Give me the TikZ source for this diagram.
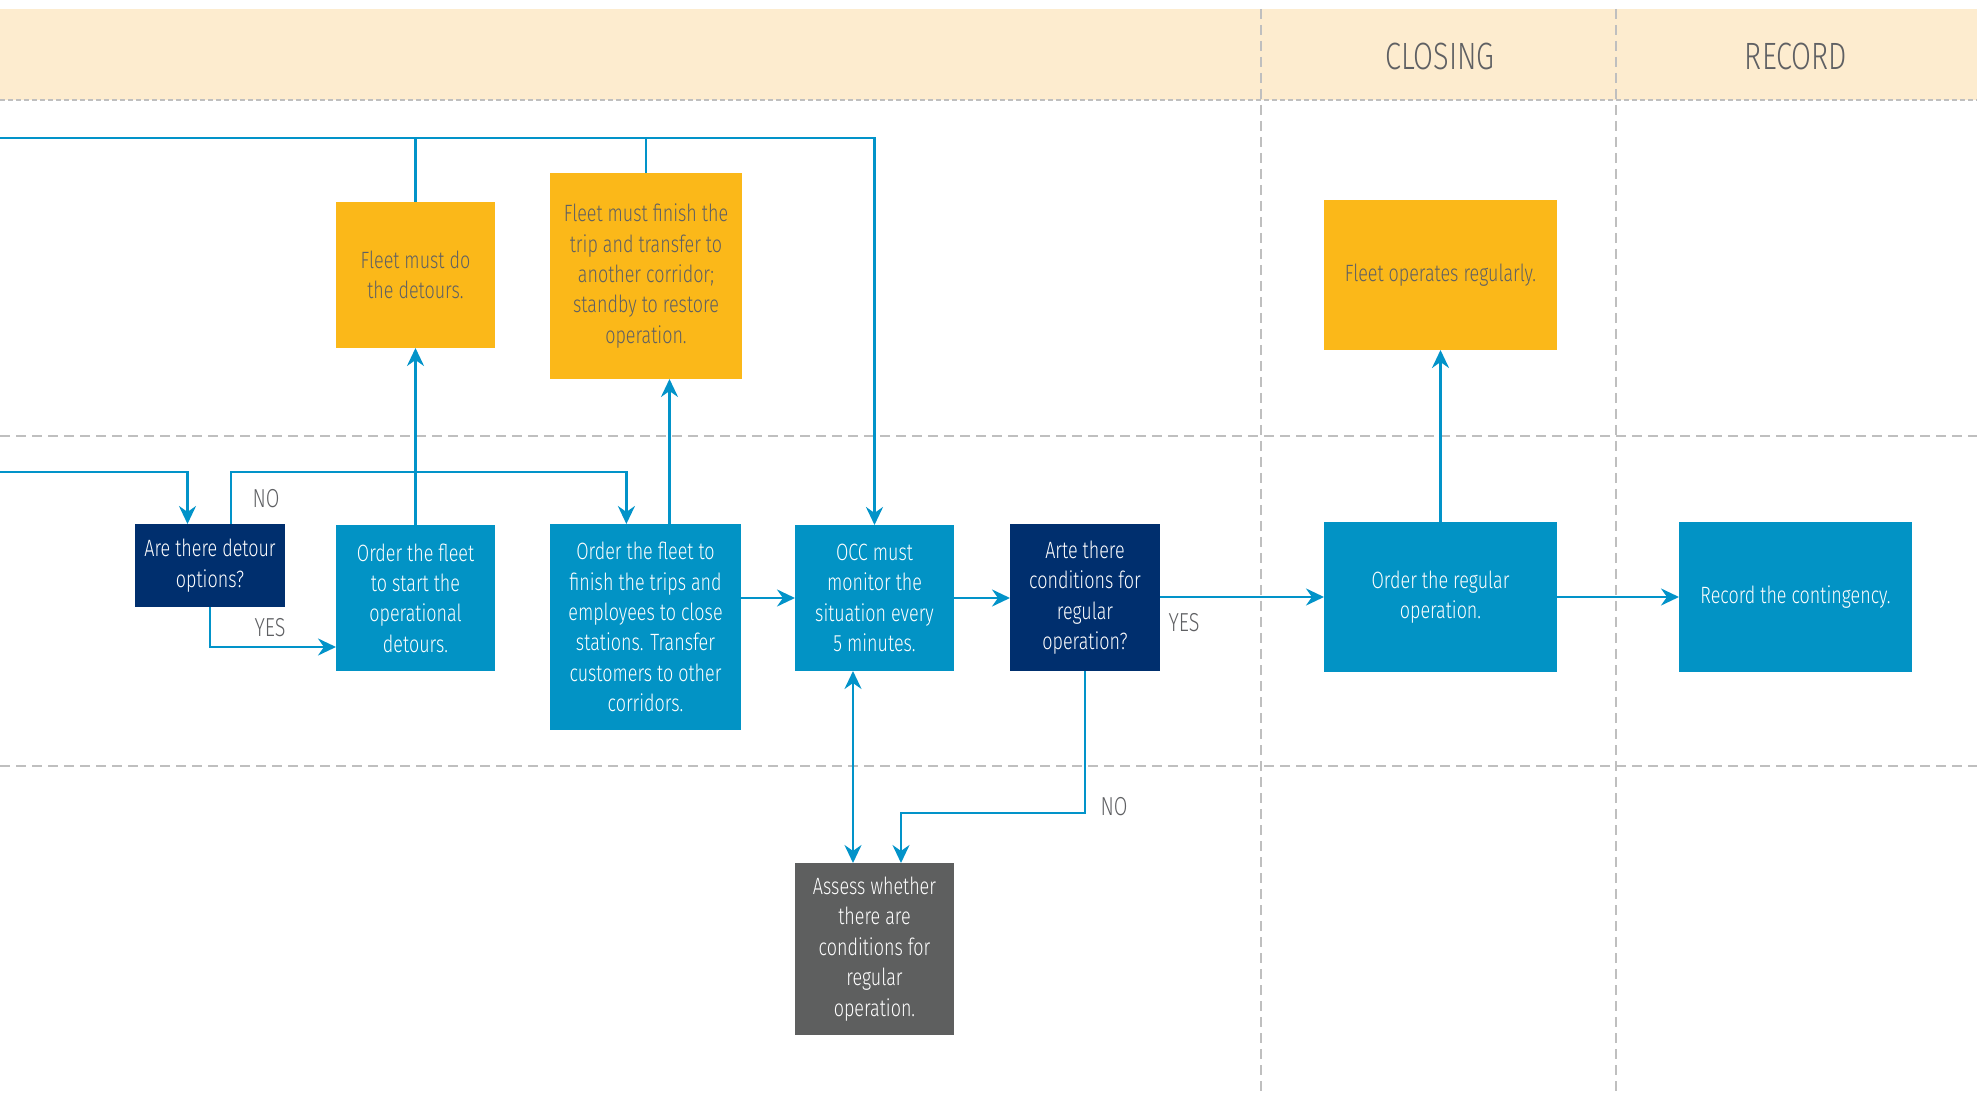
\documentclass[tikz,border=0pt]{standalone}
\usepackage{fontspec}
\setmainfont{Fira Sans Light}[FakeStretch=0.76]
\usetikzlibrary{arrows.meta,calc}
\definecolor{cband}{HTML}{FDECCF}
\definecolor{cblue}{HTML}{0293C5}
\definecolor{cnavy}{HTML}{002F6E}
\definecolor{cyellow}{HTML}{FBB819}
\definecolor{cgray}{HTML}{5E5F5F}
\definecolor{cline}{HTML}{0293C9}
\definecolor{ctext}{HTML}{5F6063}
\definecolor{cdash}{HTML}{BFBFBF}
\begin{document}
\begin{tikzpicture}[x=0.5pt,y=-0.5pt,
  box/.style={inner sep=0pt,outer sep=0pt,align=center,text=white,
    font=\fontsize{11.8}{15.2}\selectfont},
  bluebox/.style={box,fill=cblue},
  navybox/.style={box,fill=cnavy},
  yellowbox/.style={box,fill=cyellow,text=ctext},
  graybox/.style={box,fill=cgray},
  flow/.style={draw=cline,line width=1.4pt},
  flowarrow/.style={flow,-{Stealth[length=9pt,width=8.5pt,inset=3pt]}},
  twoway/.style={flow,{Stealth[length=9pt,width=8.5pt,inset=3pt]}-{Stealth[length=9pt,width=8.5pt,inset=3pt]}},
  lbl/.style={text=ctext,inner sep=0pt,font=\fontsize{13}{15}\selectfont},
  head/.style={text=ctext,inner sep=0pt,font=\fontsize{19}{22}\selectfont},
  lane/.style={draw=cdash,line width=1pt,dash pattern=on 5pt off 3pt}
]
\useasboundingbox (0,0) rectangle (1977,1096);

% header band and lane grid
\fill[cband] (0,9) rectangle (1977,100);
\draw[cdash,line width=1.4pt,dash pattern=on 2.5pt off 1.5pt] (0,100) -- (1977,100);
\draw[lane] (0,436) -- (1977,436);
\draw[lane] (0,766) -- (1977,766);
\draw[lane] (1261,9) -- (1261,1096);
\draw[lane] (1616,9) -- (1616,1096);
\node[head] (hclose) at (1440,56) {CLOSING};
\node[head] (hrec) at (1796,56) {RECORD};

% process boxes
\node[navybox,minimum width=75pt,minimum height=41.5pt] (q1) at (210,565.5)
  {Are there detour\\options?};
\node[bluebox,minimum width=79.5pt,minimum height=73pt] (ord1) at (415.5,598)
  {Order the fleet\\to start the\\operational\\detours.};
\node[bluebox,minimum width=95.5pt,minimum height=103pt] (ord2) at (645.5,627)
  {Order the fleet to\\finish the trips and\\employees to close\\stations. Transfer\\customers to other\\corridors.};
\node[bluebox,minimum width=79.5pt,minimum height=73pt] (occ) at (874.5,598)
  {OCC must\\monitor the\\situation every\\5 minutes.};
\node[navybox,minimum width=75pt,minimum height=73.5pt] (q2) at (1085,597.5)
  {Arte there\\conditions for\\regular\\operation?};
\node[graybox,minimum width=79.5pt,minimum height=86pt] (ass) at (874.5,949)
  {Assess whether\\there are\\conditions for\\regular\\operation.};
\node[yellowbox,minimum width=79.5pt,minimum height=73pt] (det) at (415.5,275)
  {Fleet must do\\the detours.};
\node[yellowbox,minimum width=96pt,minimum height=103pt] (fin) at (646,276)
  {Fleet must finish the\\trip and transfer to\\another corridor;\\standby to restore\\operation.};
\node[yellowbox,minimum width=116.5pt,minimum height=75pt] (fop) at (1440.5,275)
  {Fleet operates regularly.};
\node[bluebox,minimum width=116.5pt,minimum height=75pt] (reg) at (1440.5,597)
  {Order the regular\\operation.};
\node[bluebox,minimum width=116.5pt,minimum height=75pt] (rec) at (1795.5,597)
  {Record the contingency.};

% free ends of the incoming lines
\coordinate (topin) at (0,138);
\coordinate (leftin) at (0,472);
\coordinate (nolevel) at (0,813);

% connectors
\draw[flowarrow] (topin) -| (occ.north);
\draw[flow] (det.north) -- (det.north |- topin);
\draw[flow] (fin.north) -- (fin.north |- topin);
\draw[flowarrow] (leftin) -| ($(q1.north west)!0.35!(q1.north east)$);
\coordinate (qno) at ($(q1.north west)!0.64!(q1.north east)$);
\draw[flowarrow] (qno) -- (qno |- leftin) -| ($(ord2.north west)!0.40!(ord2.north east)$);
\draw[flowarrow] (q1.south) -- ++(0,40) coordinate (yesbend) -- (yesbend -| ord1.west);
\draw[flowarrow] (ord1.north) -- (det.south);
\draw[flowarrow] ([xshift=12pt]ord2.north) -- ([xshift=12pt]ord2.north |- fin.south);
\draw[flowarrow] (ord2.east |- occ.west) -- (occ.west);
\draw[flowarrow] (occ.east) -- (q2.west |- occ.east);
\draw[flowarrow] (q2.east |- reg.west) -- (reg.west);
\draw[flowarrow] (reg.north) -- (fop.south);
\draw[flowarrow] (reg.east) -- (rec.west);
\draw[flowarrow] (q2.south) -- (q2.south |- nolevel) -| ([xshift=13.25pt]ass.north);
\draw[twoway] ([xshift=-10.75pt]occ.south) -- ([xshift=-10.75pt]ass.north);

% branch labels
\node[lbl] (lno1) at (266,499) {NO};
\node[lbl] (lyes1) at (270,628) {YES};
\node[lbl] (lyes2) at (1184,623) {YES};
\node[lbl] (lno2) at (1114,807) {NO};
\end{tikzpicture}
\end{document}
